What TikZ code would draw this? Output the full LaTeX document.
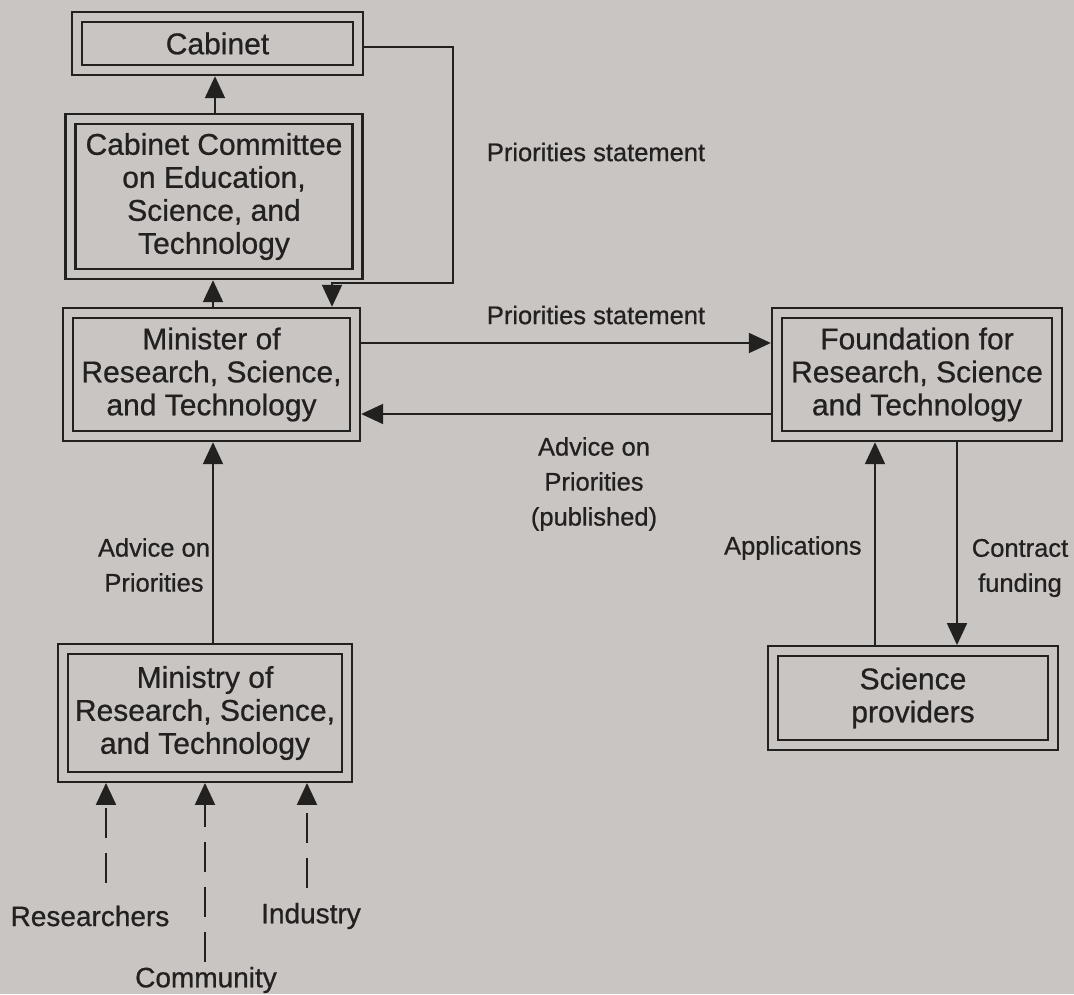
\documentclass[tikz,border=0pt]{standalone}
\usepackage{fontspec}
\setmainfont{Liberation Sans}[FakeBold=0.7]
\usetikzlibrary{arrows.meta,calc}
\definecolor{paper}{RGB}{201,197,194}
\definecolor{ink}{RGB}{35,32,32}
\begin{document}
\begin{tikzpicture}[x=0.5pt,y=-0.5pt,
  dbox/.style={draw=ink, line width=1.1pt, double=paper, double distance=3.9pt,
    outer sep=3.1pt, inner sep=0pt, align=center,
    font=\fontsize{15}{16.5}\selectfont, text=ink},
  arr/.style={draw=ink, line width=1pt, -{Triangle[length=11pt,width=10pt]}},
  dasharr/.style={arr, line width=1.1pt, dash pattern=on 15pt off 7.5pt},
  lbl/.style={align=center, font=\fontsize{12.75}{17.5}\selectfont, text=ink, inner sep=0pt},
  blbl/.style={font=\fontsize{14}{16}\selectfont, text=ink, inner sep=0pt}]
\fill[paper] (0,0) rectangle (1074,994);
\useasboundingbox (0,0) rectangle (1074,994);

% boxes
\node[dbox, minimum width=140.5pt, minimum height=26.5pt] (cab) at (217.5,43.5) {Cabinet};
\node[dbox, minimum width=143.5pt, minimum height=77.5pt] (comm) at (214,196.5)
  {Cabinet Committee\\on Education,\\Science, and\\Technology};
\node[dbox, minimum width=143.5pt, minimum height=61.5pt] (min) at (211.5,374.5)
  {Minister of\\Research, Science,\\and Technology};
\node[dbox, minimum width=140pt, minimum height=61.5pt] (fnd) at (917,374.5)
  {Foundation for\\Research, Science\\and Technology};
\node[dbox, minimum width=142pt, minimum height=63.75pt] (mny) at (205,713)
  {Ministry of\\Research, Science,\\and Technology};
\node[dbox, minimum width=140pt, minimum height=46.75pt] (sci) at (913,698)
  {Science\\providers};

% helper coordinates
\coordinate (xa) at (215,0);
\coordinate (xb) at (213,0);
\coordinate (fb1) at (453,47);
\coordinate (fb2) at (453,283);
\coordinate (fb3) at (332,283);
\coordinate (ya) at (0,343);
\coordinate (yb) at (0,414);
\coordinate (xc) at (875,0);
\coordinate (xd) at (957,0);
\coordinate (rs) at (106,883);
\coordinate (cm) at (205,962);
\coordinate (ind) at (307,888);

% connectors
\draw[arr] (comm.north -| xa) -- (cab.south -| xa);
\draw[arr] (min.north -| xb) -- (comm.south -| xb);
\draw[arr] (mny.north -| xb) -- (min.south -| xb);
\draw[arr] (cab.east |- fb1) -- (fb1) -- (fb2) -- (fb3) -- (min.north -| fb3);
\draw[arr] (min.east |- ya) -- (fnd.west |- ya);
\draw[arr] (fnd.west |- yb) -- (min.east |- yb);
\draw[arr] (sci.north -| xc) -- (fnd.south -| xc);
\draw[arr] (fnd.south -| xd) -- (sci.north -| xd);
\draw[dasharr] (rs) -- (mny.south -| rs);
\draw[dasharr] (cm) -- (mny.south -| cm);
\draw[dasharr] (ind) -- (mny.south -| ind);

% labels
\node[lbl] (l1) at (596,152) {Priorities statement};
\node[lbl] (l2) at (596,315) {Priorities statement};
\node[lbl] (l3) at (594,484) {Advice on\\Priorities\\(published)};
\node[lbl] (l4) at (154,565) {Advice on\\Priorities};
\node[lbl, anchor=east] (l5) at (862,548) {Applications};
\node[lbl] (l6) at (1020,568) {Contract\\funding};
\node[blbl] (l7) at (90,916) {Researchers};
\node[blbl] (l8) at (311,916) {Industry};
\node[blbl] (l9) at (206,980) {Community};
\end{tikzpicture}
\end{document}
